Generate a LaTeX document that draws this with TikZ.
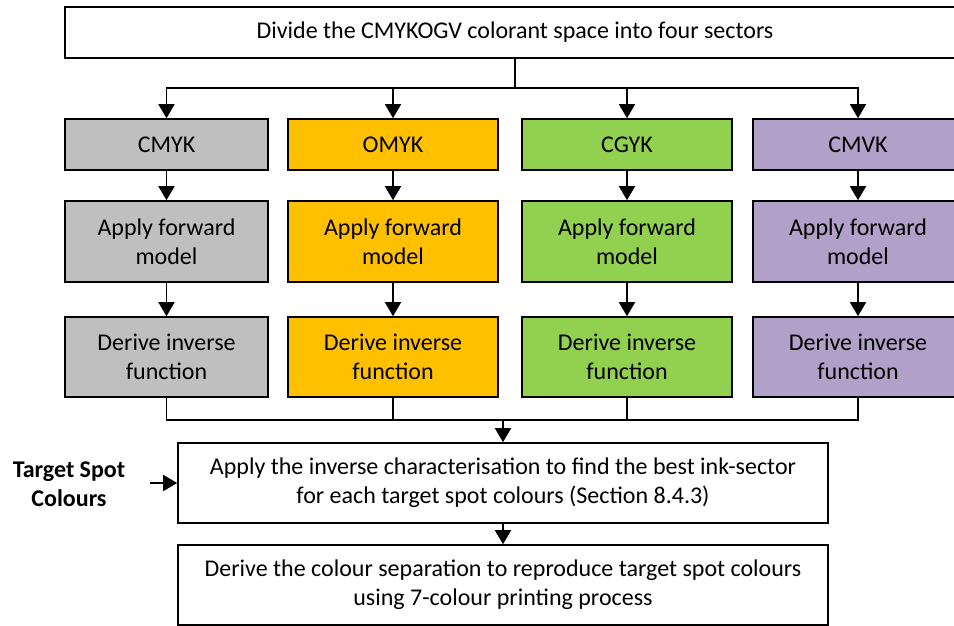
\documentclass[tikz,border=0pt]{standalone}
\usepackage{fontspec}
\setmainfont{Carlito}
\usetikzlibrary{arrows.meta}
\definecolor{cgray}{HTML}{BFBFBF}
\definecolor{corange}{HTML}{FFC000}
\definecolor{cgreen}{HTML}{92D050}
\definecolor{cpurple}{HTML}{B1A0C7}
\tikzset{
  box/.style={draw=black, line width=1.6pt, rectangle, inner sep=0pt, align=center,
    font=\fontsize{24}{29}\selectfont},
  conn/.style={line width=1.6pt},
  arr/.style={conn, -{Triangle[width=16pt,length=14pt]}},
}
\begin{document}
\begin{tikzpicture}[x=1pt,y=-1pt]
\useasboundingbox (0,0) rectangle (954,625);
\clip (0,0) rectangle (954,625);
\node[box, minimum width=900, minimum height=51] (top) at (515,32.5) {Divide the CMYKOGV colorant space into four sectors};
% row 1
\node[box, fill=cgray,   minimum width=203, minimum height=51] (a1) at (166.5,144.5) {CMYK};
\node[box, fill=corange, minimum width=210, minimum height=51] (b1) at (393,144.5) {OMYK};
\node[box, fill=cgreen,  minimum width=210, minimum height=51] (c1) at (627,144.5) {CGYK};
\node[box, fill=cpurple, minimum width=210, minimum height=51] (d1) at (858,144.5) {CMVK};
% row 2
\node[box, fill=cgray,   minimum width=203, minimum height=81] (a2) at (166.5,241.5) {Apply forward\\model};
\node[box, fill=corange, minimum width=210, minimum height=81] (b2) at (393,241.5) {Apply forward\\model};
\node[box, fill=cgreen,  minimum width=210, minimum height=81] (c2) at (627,241.5) {Apply forward\\model};
\node[box, fill=cpurple, minimum width=210, minimum height=81] (d2) at (858,241.5) {Apply forward\\model};
% row 3
\node[box, fill=cgray,   minimum width=203, minimum height=80] (a3) at (166.5,357) {Derive inverse\\function};
\node[box, fill=corange, minimum width=210, minimum height=80] (b3) at (393,357) {Derive inverse\\function};
\node[box, fill=cgreen,  minimum width=210, minimum height=80] (c3) at (627,357) {Derive inverse\\function};
\node[box, fill=cpurple, minimum width=210, minimum height=80] (d3) at (858,357) {Derive inverse\\function};
% bottom
\node[box, minimum width=650, minimum height=80] (apply) at (503,483) {Apply the inverse characterisation to find the best ink-sector\\for each target spot colours (Section 8.4.3)};
\node[box, minimum width=650, minimum height=80] (sep) at (503,585) {Derive the colour separation to reproduce target spot colours\\using 7-colour printing process};
\node[align=center, font=\fontsize{24}{29}\selectfont\bfseries] (tsc) at (69,484) {Target Spot\\Colours};
% connectors
\coordinate (split) at (515,88);
\coordinate (merge) at (503,420);
\coordinate (tsin) at (150,483);
\draw[conn] (top.south) -- (split);
\foreach \n in {a1,b1,c1,d1} \draw[arr] (split) -| (\n.north);
\draw[arr] (a1) -- (a2); \draw[arr] (b1) -- (b2); \draw[arr] (c1) -- (c2); \draw[arr] (d1) -- (d2);
\draw[arr] (a2) -- (a3); \draw[arr] (b2) -- (b3); \draw[arr] (c2) -- (c3); \draw[arr] (d2) -- (d3);
\foreach \n in {a3,b3,c3,d3} \draw[conn] (\n.south) |- (merge);
\draw[arr] (merge) -- (apply.north);
\draw[arr] (apply) -- (sep);
\draw[arr] (tsin) -- (apply.west);
\end{tikzpicture}
\end{document}
